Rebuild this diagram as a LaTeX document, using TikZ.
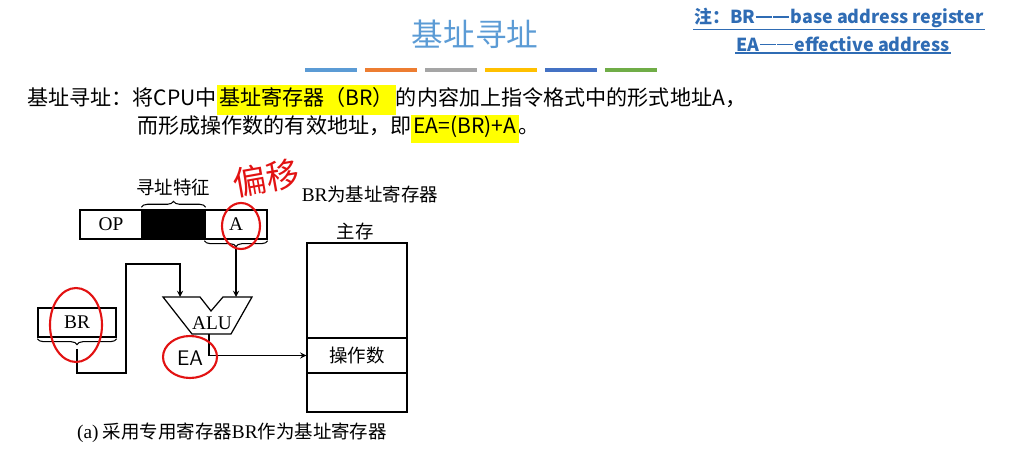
\documentclass[tikz,border=0pt]{standalone}
\usepackage{fontspec}
\setmainfont{Liberation Serif}
\newfontfamily\cjk{Noto Sans CJK SC}
\usetikzlibrary{decorations.pathreplacing}

\newlength\px
\setlength\px{0.02cm}
\definecolor{titleblue}{RGB}{91,155,213}
\definecolor{noteblue}{RGB}{47,108,180}
\definecolor{inkred}{RGB}{226,18,18}
\definecolor{hiyellow}{RGB}{255,255,0}
\definecolor{barblue}{RGB}{91,155,213}
\definecolor{barorange}{RGB}{237,125,49}
\definecolor{bargray}{RGB}{165,165,165}
\definecolor{bargold}{RGB}{255,192,0}
\definecolor{bardark}{RGB}{68,114,196}
\definecolor{bargreen}{RGB}{112,173,71}
\newcommand\hl[1]{{\setlength\fboxsep{1.2pt}\colorbox{hiyellow}{\strut#1}}}
\newcommand\ddash{\rule[0.33em]{0.9em}{0.09em}\hspace{0.08em}\rule[0.33em]{0.9em}{0.09em}\hspace{0.08em}}

\begin{document}
\begin{tikzpicture}[x=0.02cm, y=-0.02cm, >=stealth,
    body/.style={font=\cjk\fontsize{12}{14}\selectfont, inner sep=0pt},
    note/.style={font=\cjk\bfseries\fontsize{10.2}{12}\selectfont, text=noteblue, inner sep=0.6pt},
    dtext/.style={font=\fontsize{11}{13}\selectfont, inner sep=0pt},
    ctext/.style={font=\cjk\fontsize{10.5}{12}\selectfont, inner sep=0pt},
    field/.style={draw, line width=0.7pt, minimum height=29\px, inner sep=0pt, font=\fontsize{11}{13}\selectfont},
    wire/.style={line width=0.6pt},
    curly/.style={wire, decorate, decoration={brace, amplitude=6\px}},
    ink/.style={draw=inkred, line width=1.2pt},
    bar/.style={minimum width=52\px, minimum height=4\px, inner sep=0pt}]
    \useasboundingbox (0,0) rectangle (1024,452);

    % Title and colour bars
    \node[font=\cjk\fontsize{18}{20}\selectfont, text=titleblue] (title) at (475,34) {基址寻址};
    \foreach \c [count=\i] in {barblue,barorange,bargray,bargold,bardark,bargreen}
        \node[bar, fill=\c] (bar\i) at (331+60*\i-60,70) {};

    % Note
    \node[note] (note1) at (839,18) {注：BR\ddash base address register};
    \node[note] (note2) at (843,44) {EA\ddash effective address};
    \draw[noteblue, line width=0.8pt] (note1.south west) -- (note1.south east);
    \draw[noteblue, line width=0.8pt] (note2.south west) -- (note2.south east);

    % Definition text
    \node[body, anchor=west] (line1) at (27,100) {基址寻址：将CPU中\hl{基址寄存器（BR）}的内容加上指令格式中的形式地址A，};
    \node[body, anchor=west] (line2) at (137,129) {而形成操作数的有效地址，即\hl{EA=(BR)+A}。};

    % Instruction format
    \node[field, minimum width=62\px] (op) at (111,224.5) {OP};
    \node[field, fill=black, minimum width=63\px] (feat) at (173.5,224.5) {};
    \node[field, minimum width=62\px] (addr) at (236,224.5) {A};
    \draw[curly] ([yshift=1.2pt]feat.north west) -- ([yshift=1.2pt]feat.north east);
    \node[ctext] (featlbl) at (173,187) {寻址特征};
    \draw[curly] ([yshift=-0.6pt]addr.south east) -- ([yshift=-0.6pt]addr.south west);
    \coordinate (atip) at (236,249);

    % Base register
    \node[field, minimum width=78\px] (br) at (77,322.5) {BR};
    \draw[curly] ([yshift=-0.6pt]br.south east) -- ([yshift=-0.6pt]br.south west);
    \coordinate (brtip) at (77,349);

    % ALU
    \draw[line width=0.7pt] (163,297) -- (200,297) -- (211,311) -- (223,297) -- (252,297)
        -- (231,334) -- (192,334) -- cycle;
    \node[dtext] (alu) at (212,323) {ALU};
    \coordinate (alul) at (180,297);
    \coordinate (alur) at (236,297);
    \coordinate (aluout) at (209,334);
    \node[font=\sffamily\fontsize{12}{14}\selectfont, inner sep=0pt] (ea) at (190,358) {EA};

    % Main memory
    \node[field, minimum width=100\px, minimum height=95\px] (memtop) at (357,290.5) {};
    \node[field, minimum width=100\px, minimum height=35\px, font=\cjk\fontsize{10.5}{12}\selectfont] (opnd) at (357,355.5) {操作数};
    \node[field, minimum width=100\px, minimum height=39\px] (membot) at (357,392.5) {};
    \node[ctext] (memlbl) at (355,231) {主存};
    \node[ctext] (brnote) at (370,194) {{\rmfamily\fontsize{11}{13}\selectfont BR}为基址寄存器};

    % Connections
    \draw[wire,->] (brtip) |- ++(49,24) -- ++(0,-109) -| (alul);
    \draw[wire,->] (atip) -- (alur);
    \draw[wire,->] (aluout) |- (opnd.west);

    % Caption
    \node[ctext] (caption) at (232,433) {{\rmfamily\fontsize{11}{13}\selectfont (a)} 采用专用寄存器{\rmfamily\fontsize{11}{13}\selectfont BR}作为基址寄存器};

    % Hand-written marks
    \draw[ink] (241,226) ellipse [x radius=19\px, y radius=23\px];
    \draw[ink] (76,325) ellipse [x radius=26\px, y radius=37\px];
    \draw[ink] (190,357) ellipse [x radius=27\px, y radius=21\px];
    \node[text=inkred, font=\cjk\fontsize{19}{21}\selectfont, rotate=10, inner sep=0pt] (hand) at (266,178) {偏移};
\end{tikzpicture}
\end{document}
